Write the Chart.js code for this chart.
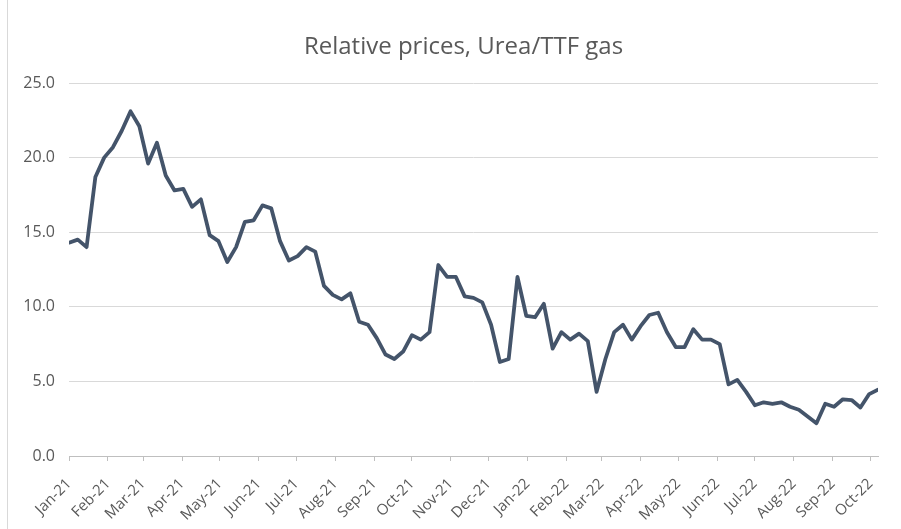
<!DOCTYPE html>
<html>
<head>
<meta charset="utf-8">
<script src="https://cdn.jsdelivr.net/npm/chart.js@4/dist/chart.umd.min.js"></script>
<style>
  html, body { margin: 0; padding: 0; background: #ffffff; }
  #wrap { position: relative; width: 901px; height: 529px; overflow: hidden; }
  #edge { position: absolute; left: 7px; top: 0; width: 1px; height: 529px; background: #d9d9d9; }
  #title {
    position: absolute; left: 263.5px; width: 400px; top: 30px;
    text-align: center; white-space: nowrap;
    font-family: "Open Sans", "Liberation Sans", sans-serif; font-size: 24px; line-height: 29px;
    color: #595959;
  }
</style>
</head>
<body>
<div id="wrap">
  <canvas id="c" width="901" height="529"></canvas>
  <div id="edge"></div>
  <div id="title"></div>
</div>
<script>
// ---- Data (weekly observations starting 1 Jan 2021) ----
const startDate = '2021-01-01';
const ratioValues = [
  14.3, 14.5, 14.0, 18.7, 20.0, 20.7, 21.8, 23.1, 22.1, 19.6,
  21.0, 18.8, 17.8, 17.9, 16.7, 17.2, 14.8, 14.4, 13.0, 14.0,
  15.7, 15.8, 16.8, 16.6, 14.4, 13.1, 13.4, 14.0, 13.7, 11.4,
  10.8, 10.5, 10.9, 9.0, 8.8, 7.9, 6.8, 6.5, 7.0, 8.1,
  7.8, 8.3, 12.8, 12.0, 12.0, 10.7, 10.6, 10.3, 8.8, 6.3,
  6.5, 12.0, 9.4, 9.3, 10.2, 7.2, 8.3, 7.8, 8.2, 7.7,
  4.3, 6.5, 8.3, 8.8, 7.8, 8.7, 9.45, 9.6, 8.3, 7.3,
  7.3, 8.5, 7.8, 7.8, 7.5, 4.8, 5.1, 4.3, 3.4, 3.6,
  3.5, 3.6, 3.3, 3.1, 2.65, 2.2, 3.5, 3.3, 3.8, 3.75,
  3.25, 4.15, 4.45
];
const monthLabels = [
  'Jan-21','Feb-21','Mar-21','Apr-21','May-21','Jun-21','Jul-21','Aug-21','Sep-21','Oct-21','Nov-21','Dec-21',
  'Jan-22','Feb-22','Mar-22','Apr-22','May-22','Jun-22','Jul-22','Aug-22','Sep-22','Oct-22'
];
const yTicks = [0, 5, 10, 15, 20, 25];
const titleText = 'Relative prices, Urea/TTF gas';

document.getElementById('title').textContent = titleText;

// ---- Derived positions (days since start) ----
const DAY = 86400000;
const t0 = Date.parse(startDate + 'T00:00:00Z');
const weekDays = ratioValues.map((_, i) => i * 7);
const points = ratioValues.map((v, i) => ({ x: weekDays[i], y: v }));
const monthDays = monthLabels.map((_, i) => (Date.UTC(2021, i, 1) - t0) / DAY);
const xMax = weekDays[weekDays.length - 1];

const grey = '#595959';
const fontFamily = '"Open Sans", "Liberation Sans", sans-serif';

new Chart(document.getElementById('c'), {
  type: 'line',
  data: {
    datasets: [{
      data: points,
      borderColor: '#44546A',
      backgroundColor: '#44546A',
      borderWidth: 3.8,
      pointRadius: 0,
      tension: 0,
      borderJoinStyle: 'round',
      borderCapStyle: 'round',
      fill: false
    }]
  },
  options: {
    responsive: false,
    animation: false,
    devicePixelRatio: 1,
    layout: { padding: { left: 0, right: 23, top: 83, bottom: 0 } },
    plugins: {
      legend: { display: false },
      tooltip: { enabled: false },
      title: { display: false }
    },
    scales: {
      x: {
        type: 'linear',
        min: 0,
        max: xMax,
        afterBuildTicks: (scale) => { scale.ticks = monthDays.map(d => ({ value: d })); },
        afterFit: (scale) => { scale.height = 73; },
        grid: {
          display: true,
          drawOnChartArea: false,
          drawTicks: true,
          tickLength: 5,
          color: '#bfbfbf'
        },
        border: { display: true, color: '#bfbfbf', width: 1 },
        ticks: {
          autoSkip: false,
          minRotation: 45,
          maxRotation: 45,
          padding: 14,
          color: grey,
          font: { family: fontFamily, size: 15 },
          callback: (v, i) => monthLabels[i]
        }
      },
      y: {
        min: 0,
        max: 25,
        afterBuildTicks: (scale) => { scale.ticks = yTicks.map(v => ({ value: v })); },
        afterFit: (scale) => { scale.width = 69; },
        grid: { color: '#d9d9d9', lineWidth: 1, drawTicks: false },
        border: { display: false },
        ticks: {
          padding: 14,
          color: grey,
          font: { family: fontFamily, size: 16 },
          callback: (v) => Number(v).toFixed(1)
        }
      }
    }
  }
});
</script>
</body>
</html>
